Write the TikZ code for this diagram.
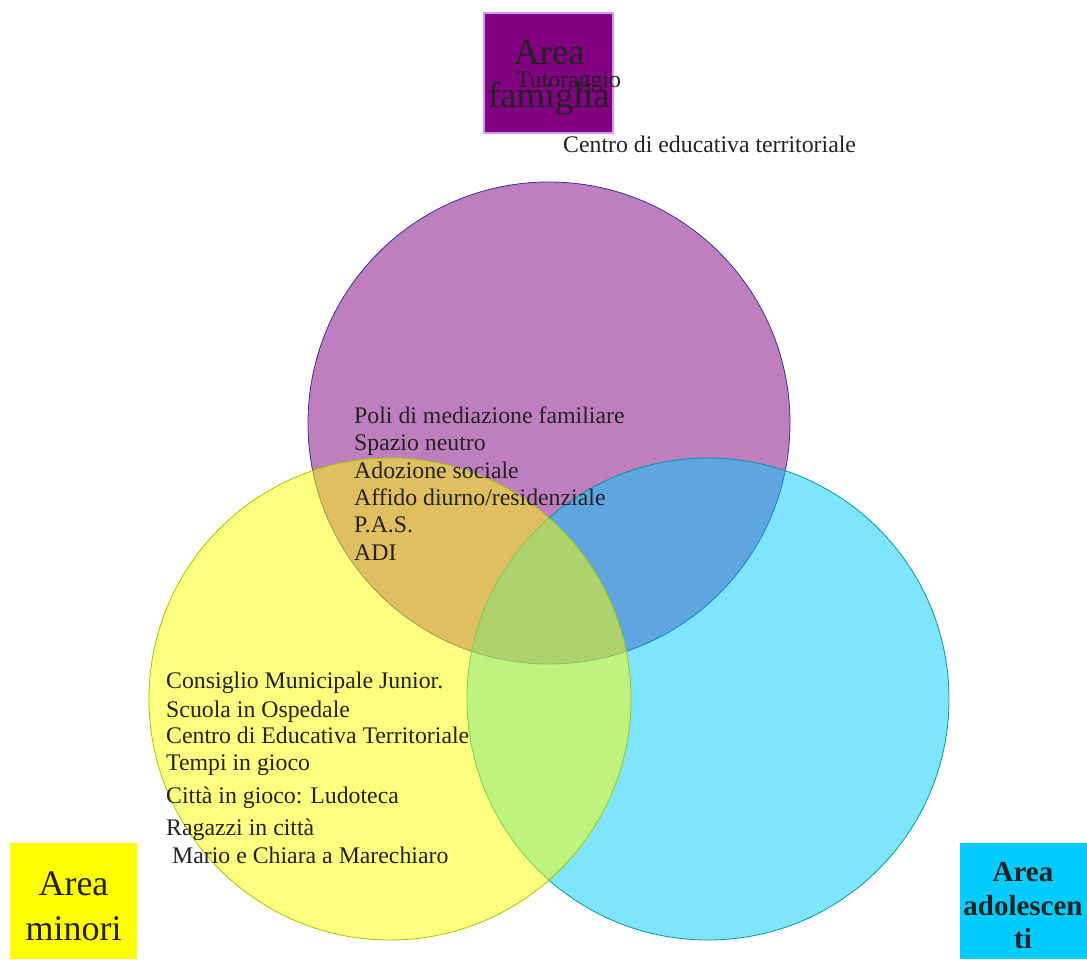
\documentclass[tikz,border=0pt]{standalone}
\usepackage{fontspec}
\setmainfont{Liberation Serif}
\definecolor{viola}{HTML}{800080}
\definecolor{violabordo}{HTML}{333399}
\definecolor{lillabordo}{HTML}{CC99FF}
\definecolor{giallo}{HTML}{FFFF00}
\definecolor{giallobordo}{HTML}{99CC00}
\definecolor{ciano}{HTML}{00CCFF}
\definecolor{cianobordo}{HTML}{009999}
\definecolor{testo}{HTML}{222222}

\begin{document}
\begin{tikzpicture}[x=1pt, y=-1pt,
  area/.style={circle, minimum size=482pt, inner sep=0pt,
               line width=0.8pt, fill opacity=0.5},
  riquadro/.style={rectangle, inner sep=0pt, minimum width=127pt},
  voce/.style={anchor=base west, inner sep=0pt,
               font=\fontsize{23.8}{28}\selectfont, text=testo},
  titolo/.style={align=center, inner sep=0pt, text=testo}
]
  \useasboundingbox (0,0) rectangle (1087,959);

  % i tre cerchi
  \node[area, draw=violabordo, fill=viola] (famiglia) at (549,423) {};
  \node[area, draw=cianobordo, fill=ciano] (adolescenti) at (708,699) {};
  \node[area, draw=giallobordo, fill=giallo] (minori) at (390,699) {};

  % riquadri delle aree
  \node[riquadro, fill=viola, draw=lillabordo, line width=2pt,
        minimum width=129pt, minimum height=120pt] (boxfam) at (548.5,73) {};
  \node[riquadro, fill=giallo, minimum height=116pt] (boxmin) at (73.5,901) {};
  \node[riquadro, fill=ciano, minimum height=116pt] (boxado) at (1023,901) {};

  \node[titolo, font=\fontsize{36.5}{43}\selectfont] (titfam) at (549,78) {Area\\famiglia};
  \node[titolo, font=\fontsize{36}{45}\selectfont] (titmin) at (73.5,906) {Area\\minori};
  \node[titolo, font=\bfseries\fontsize{29}{33.5}\selectfont] (titado) at (1023,906)
    {Area\\adolescen\\ti};

  % voci area famiglia
  \node[voce] (tutor) at (516,87) {Tutoraggio};
  \node[voce] (cet) at (563,152) {Centro di educativa territoriale};
  \foreach \y/\txt [count=\i] in {423/Poli di mediazione familiare,
      450/Spazio neutro, 478/Adozione sociale,
      505/{Affido diurno/residenziale}, 532/P.A.S., 560/ADI}
    \node[voce] (fam\i) at (354,\y) {\txt};

  % voci area minori
  \foreach \y/\txt [count=\i] in {688/Consiglio Municipale Junior.,
      717/Scuola in Ospedale, 743/Centro di Educativa Territoriale,
      770/Tempi in gioco, 803/Città in gioco: Ludoteca,
      835/Ragazzi in città}
    \node[voce] (min\i) at (166,\y) {\txt};
  \node[voce] (min7) at (172,863) {Mario e Chiara a Marechiaro};
\end{tikzpicture}
\end{document}
